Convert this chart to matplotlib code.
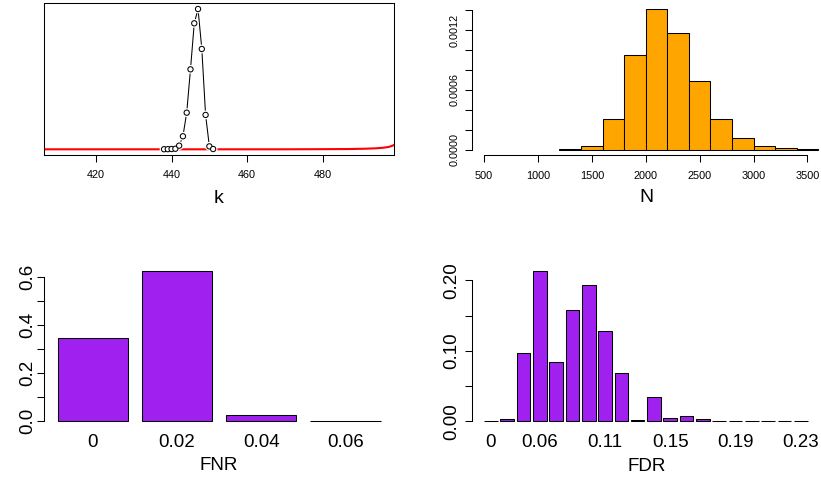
import matplotlib
matplotlib.use('Agg')
import matplotlib.pyplot as plt, numpy as np
import matplotlib.patheffects as pe

plt.rcParams['font.family'] = ['Liberation Sans', 'DejaVu Sans']

# posterior of k (scaled) and the prior curve in red
k_vals = [438, 439, 440, 441, 442, 443, 444, 445, 446, 447, 448, 449, 450, 451]
k_post = [0.0005, 0.001, 0.002, 0.004, 0.026, 0.093, 0.261, 0.570, 0.898, 1.0,
          0.715, 0.245, 0.021, 0.002]
prior_k = [406, 470, 480, 487, 491, 494, 496, 497.5, 498.5, 499]
prior_val = [0.0, 0.0, 0.001, 0.002, 0.004, 0.007, 0.011, 0.017, 0.026, 0.033]

# histogram of N
n_edges = [1200, 1400, 1600, 1800, 2000, 2200, 2400, 2600, 2800, 3000, 3200, 3400, 3600]
n_density = [0.000005, 0.000033, 0.000304, 0.000950, 0.001411, 0.001174,
             0.000686, 0.000304, 0.000120, 0.000037, 0.000013, 0.000003]

# FNR table
fnr_names = ['0', '0.02', '0.04', '0.06']
fnr_freq = [0.348, 0.626, 0.025, 0.001]

# FDR table
fdr_names = ['0', '0.02', '0.04', '0.06', '0.07', '0.08', '0.1', '0.11', '0.12', '0.13',
             '0.14', '0.15', '0.16', '0.17', '0.18', '0.19', '0.2', '0.21', '0.22', '0.23']
fdr_freq = [0.0003, 0.0033, 0.0967, 0.2137, 0.0844, 0.1578, 0.1943, 0.1284, 0.0682, 0.0014,
            0.0341, 0.0043, 0.0076, 0.0033, 0.001, 0.0003, 0.0002, 0.0002, 0.0002, 0.0002]
fdr_shown = [0, 3, 7, 11, 15, 19]

W, H = 821, 479
fig = plt.figure(figsize=(W / 100, H / 100), dpi=100)


def px_axes(left, top, right, bottom):
    return fig.add_axes([left / W, 1 - bottom / H, (right - left) / W, (bottom - top) / H])


LW = 0.75
TL = 4.8
small = 7.8
big = 13.5

# ---- k plot
ax1 = px_axes(44.3, 3.3, 393.7, 155)
ax1.plot(prior_k, prior_val, color='red', lw=1.5, zorder=2)
ax1.plot(k_vals, k_post, color='black', lw=0.75, zorder=3)
ax1.plot(k_vals, k_post, ls='none', marker='o', ms=3.8, mfc='white', mec='black',
         mew=0.75, zorder=4, path_effects=[pe.Stroke(linewidth=2.5, foreground='white'), pe.Normal()])
ax1.set_xlim(406.3, 498.8)
ax1.set_ylim(-0.0406, 1.0406)
ax1.set_yticks([])
ax1.set_xticks([420, 440, 460, 480])
ax1.tick_params(axis='x', length=TL, width=LW, labelsize=small, pad=6.3)
for s in ax1.spines.values():
    s.set_linewidth(LW)
ax1.set_xlabel('k', fontsize=14)
ax1.xaxis.set_label_coords(0.5, -(190 - 155) / 151.7)

# ---- N histogram
ax2 = px_axes(471.7, 4.4, 821, 155.3)
ax2.bar(n_edges[:-1], n_density, width=np.diff(n_edges), align='edge',
        color='#FFA500', edgecolor='black', linewidth=LW)
ax2.set_xlim(386, 3626)
ax2.set_ylim(-0.000056, 0.001456)
ax2.set_xticks([500, 1000, 1500, 2000, 2500, 3000, 3500])
yt = [0, 0.0002, 0.0004, 0.0006, 0.0008, 0.0010, 0.0012, 0.0014]
ax2.set_yticks(yt)
ax2.set_yticklabels(['%.4f' % v if v in (0, 0.0006, 0.0012) else '' for v in yt],
                    rotation=90, va='center')
ax2.tick_params(length=TL, width=LW, labelsize=small)
ax2.tick_params(axis='x', pad=6.3)
ax2.tick_params(axis='y', pad=3.6)
ax2.spines['top'].set_visible(False)
ax2.spines['right'].set_visible(False)
ax2.spines['left'].set_bounds(0, 0.0014)
ax2.spines['bottom'].set_bounds(500, 3500)
ax2.spines['left'].set_linewidth(LW)
ax2.spines['bottom'].set_linewidth(LW)
ax2.set_xlabel('N', fontsize=14)
ax2.xaxis.set_label_coords(0.5, -(189 - 155.3) / 150.9)


def bar_panel(ax, names, freq, shown, ylim, yticks, ylabels, ypad, xlim):
    pos = [0.7 + 1.2 * i for i in range(len(freq))]
    ax.bar(pos, freq, width=1.0, color='#A020F0', edgecolor='black', linewidth=LW)
    ax.set_xlim(*xlim)
    ax.set_ylim(*ylim)
    ax.set_xticks([pos[i] for i in shown])
    ax.set_xticklabels([names[i] for i in shown])
    ax.set_yticks(yticks)
    ax.set_yticklabels(ylabels, rotation=90, va='center')
    ax.tick_params(axis='x', length=0, labelsize=big, pad=4.5)
    ax.tick_params(axis='y', length=TL, width=LW, labelsize=big, pad=ypad)
    for s in ['top', 'right', 'bottom']:
        ax.spines[s].set_visible(False)
    ax.spines['left'].set_bounds(yticks[0], yticks[-1])
    ax.spines['left'].set_linewidth(LW)


# ---- FNR
ax3 = px_axes(44.3, 265, 393.7, 427.3)
yt3 = [0, 0.1, 0.2, 0.3, 0.4, 0.5, 0.6]
bar_panel(ax3, fnr_names, fnr_freq, [0, 1, 2, 3], (-0.025, 0.651), yt3,
          ['0.0', '', '0.2', '', '0.4', '', '0.6'], 1.2, (0.011, 4.987))
ax3.set_xlabel('FNR', fontsize=big)
ax3.xaxis.set_label_coords(0.5, -(457.3 - 427.3) / 162.3)

# ---- FDR
ax4 = px_axes(472.3, 265, 821, 427.3)
yt4 = [0, 0.05, 0.10, 0.15, 0.20]
bar_panel(ax4, fdr_names, fdr_freq, fdr_shown, (-0.0085, 0.222), yt4,
          ['0.00', '', '0.10', '', '0.20'], 3.7, (-0.664, 24.99))
ax4.set_xlabel('FDR', fontsize=big)
ax4.xaxis.set_label_coords(0.5, -(458.3 - 427.3) / 162.3)

plt.savefig('out.png', dpi=100)
